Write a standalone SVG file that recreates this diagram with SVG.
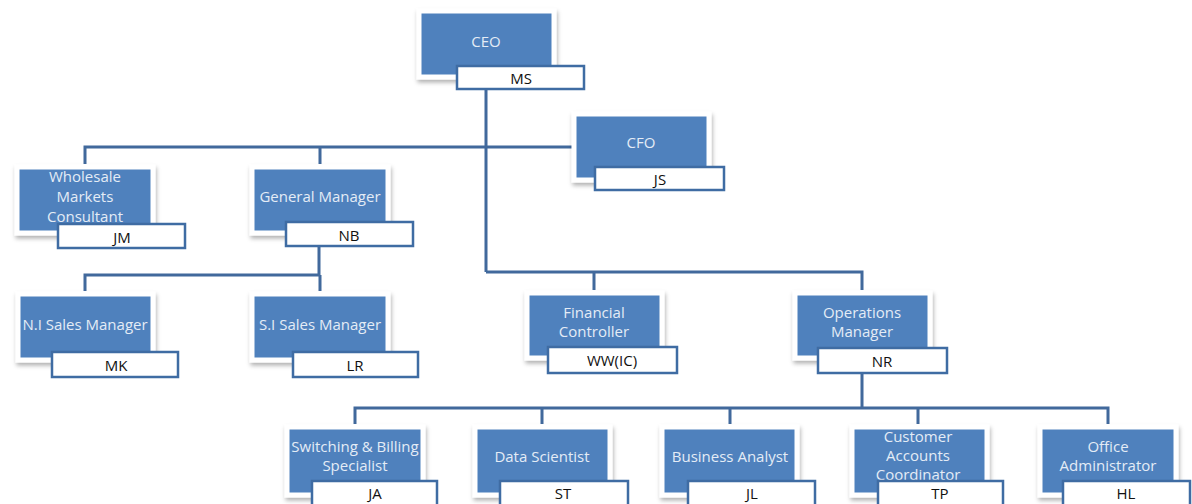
<svg xmlns="http://www.w3.org/2000/svg" width="1192" height="504" viewBox="0 0 1192 504">
<defs>
<filter id="sh" x="-10%" y="-10%" width="130%" height="140%">
<feDropShadow dx="1" dy="3" stdDeviation="2" flood-color="#000" flood-opacity="0.3"/>
</filter>
<style>
.role{fill:#4F81BD;stroke:#fff;stroke-width:5;filter:url(#sh)}
.name{fill:#fff;stroke:#3F6CA3;stroke-width:2.5}
.rt{font-family:"Open Sans","Liberation Sans",sans-serif;font-size:15px;fill:#E4ECF6;text-anchor:middle;dominant-baseline:central}
.nt{font-family:"Open Sans","Liberation Sans",sans-serif;font-size:15px;fill:#111;text-anchor:middle;dominant-baseline:central}
.con{fill:none;stroke:#41699C;stroke-width:3}
</style>
</defs>
<rect width="1192" height="504" fill="#fff"/>
<g id="connectors">
<path class="con" d="M486 89V272M85 164V147H572M320 147V164"/>
<path class="con" d="M319 246V275H85V291M320 275V291"/>
<path class="con" d="M486 272H862V290M594 272V290"/>
<path class="con" d="M862 373V408M355 424V408H1108V424M542 408V424M730 408V424M918 408V424"/>
</g>
<g id="ceo">
<rect class="role" x="419" y="11" width="135" height="66"/>
<text class="rt" x="486" y="41">CEO</text>
<rect class="name" x="457" y="66" width="127" height="23"/>
<text class="nt" x="521" y="78">MS</text>
</g>
<g id="cfo">
<rect class="role" x="574" y="114" width="135" height="66"/>
<text class="rt" x="641" y="142">CFO</text>
<rect class="name" x="595" y="167" width="129" height="23"/>
<text class="nt" x="660" y="179">JS</text>
</g>
<g id="wholesale">
<rect class="role" x="17" y="167" width="136" height="66"/>
<text class="rt" x="85" y="176">Wholesale</text>
<text class="rt" x="85" y="196">Markets</text>
<text class="rt" x="85" y="216">Consultant</text>
<rect class="name" x="58" y="224" width="127" height="24"/>
<text class="nt" x="122" y="237">JM</text>
</g>
<g id="gm">
<rect class="role" x="252" y="167" width="136" height="66"/>
<text class="rt" x="320" y="196">General Manager</text>
<rect class="name" x="286" y="222" width="127" height="24"/>
<text class="nt" x="349" y="235">NB</text>
</g>
<g id="ni">
<rect class="role" x="18" y="294" width="135" height="66"/>
<text class="rt" x="85" y="324">N.I Sales Manager</text>
<rect class="name" x="52" y="352" width="126" height="25"/>
<text class="nt" x="116" y="365">MK</text>
</g>
<g id="si">
<rect class="role" x="252" y="294" width="136" height="66"/>
<text class="rt" x="320" y="324">S.I Sales Manager</text>
<rect class="name" x="293" y="352" width="125" height="25"/>
<text class="nt" x="355" y="365">LR</text>
</g>
<g id="fc">
<rect class="role" x="527" y="293" width="135" height="65"/>
<text class="rt" x="594" y="312">Financial</text>
<text class="rt" x="594" y="331">Controller</text>
<rect class="name" x="548" y="347" width="129" height="26"/>
<text class="nt" x="612" y="360">WW(IC)</text>
</g>
<g id="om">
<rect class="role" x="795" y="293" width="135" height="65"/>
<text class="rt" x="862" y="312">Operations</text>
<text class="rt" x="862" y="331">Manager</text>
<rect class="name" x="818" y="348" width="129" height="25"/>
<text class="nt" x="882" y="361">NR</text>
</g>
<g id="switching">
<rect class="role" x="287" y="427" width="136" height="68"/>
<text class="rt" x="355" y="446">Switching &amp; Billing</text>
<text class="rt" x="355" y="465">Specialist</text>
<rect class="name" x="312" y="481" width="125" height="26"/>
<text class="nt" x="375" y="493">JA</text>
</g>
<g id="ds">
<rect class="role" x="475" y="427" width="135" height="68"/>
<text class="rt" x="542" y="456">Data Scientist</text>
<rect class="name" x="500" y="481" width="128" height="26"/>
<text class="nt" x="563" y="493">ST</text>
</g>
<g id="ba">
<rect class="role" x="662" y="427" width="135" height="68"/>
<text class="rt" x="730" y="456">Business Analyst</text>
<rect class="name" x="688" y="481" width="127" height="26"/>
<text class="nt" x="752" y="493">JL</text>
</g>
<g id="cac">
<rect class="role" x="852" y="427" width="135" height="68"/>
<text class="rt" x="918" y="436">Customer</text>
<text class="rt" x="918" y="455">Accounts</text>
<text class="rt" x="918" y="474">Coordinator</text>
<rect class="name" x="878" y="481" width="125" height="26"/>
<text class="nt" x="940" y="493">TP</text>
</g>
<g id="oa">
<rect class="role" x="1040" y="427" width="136" height="68"/>
<text class="rt" x="1108" y="446">Office</text>
<text class="rt" x="1108" y="465">Administrator</text>
<rect class="name" x="1063" y="481" width="127" height="26"/>
<text class="nt" x="1126" y="493">HL</text>
</g>
</svg>
